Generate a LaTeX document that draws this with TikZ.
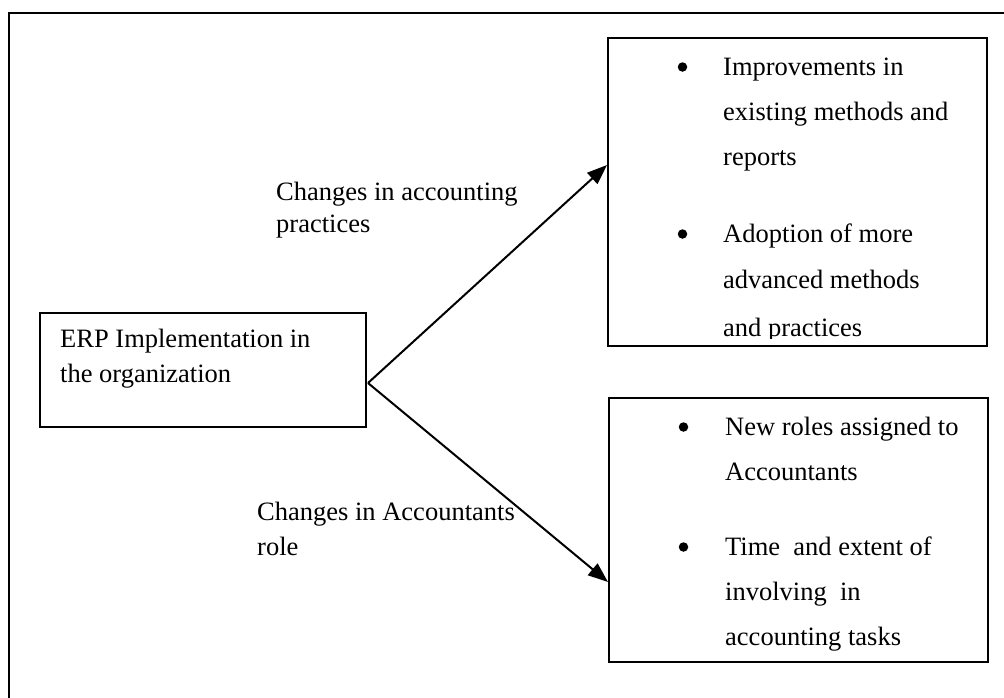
\documentclass[tikz,border=0pt]{standalone}
\usepackage{fontspec}
\setmainfont{Liberation Serif}
\usetikzlibrary{arrows.meta}
\begin{document}
\begin{tikzpicture}[x=1pt,y=-1pt,
  box/.style={draw=black,line width=1.7pt,anchor=north west,inner sep=0pt},
  txt/.style={anchor=base west,inner sep=0pt,font=\fontsize{26.5}{32}\selectfont},
  dot/.style={circle,fill=black,inner sep=0pt,minimum size=9.5pt},
  conn/.style={line width=2pt,-{Triangle[length=20pt,width=15pt]}}]
\useasboundingbox (0,0) rectangle (1004,697);
\fill[white] (0,0) rectangle (1004,697);
% outer frame
\coordinate (fb) at (9,700);
\coordinate (ftl) at (9,12.5);
\coordinate (fr) at (1010,12.5);
\draw[line width=2pt] (fb) -- (ftl) -- (fr);
% boxes
\node[box,minimum width=326pt,minimum height=114pt] (erp) at (39,312) {};
\node[box,minimum width=379pt,minimum height=308pt] (acc) at (607,37) {};
\node[box,minimum width=379pt,minimum height=264pt] (role) at (608,397) {};
% ERP text
\node[txt] (e1) at (60,347) {ERP Implementation in};
\node[txt] (e2) at (60,382) {the organization};
% top box text
\node[dot] (b1) at (682.5,67) {};
\node[dot] (b2) at (682.5,234) {};
\begin{scope}
\clip (607,37) rectangle (986,338);
\node[txt] (a1) at (723,75) {Improvements in};
\node[txt] (a2) at (723,120) {existing methods and};
\node[txt] (a3) at (723,165) {reports};
\node[txt] (a4) at (723,242) {Adoption of more};
\node[txt] (a5) at (723,288) {advanced methods};
\node[txt] (a6) at (723,336) {and practices};
\end{scope}
% bottom box text
\node[dot] (b3) at (683.5,427) {};
\node[dot] (b4) at (683.5,547) {};
\node[txt] (r1) at (725,435) {New roles assigned to};
\node[txt] (r2) at (725,480) {Accountants};
\node[txt] (r3) at (725,555) {Time\ \ and extent of};
\node[txt] (r4) at (725,600) {involving\ \ in};
\node[txt] (r5) at (725,645) {accounting tasks};
% labels
\node[txt] (l1) at (276,200) {Changes in accounting};
\node[txt] (l2) at (276,232) {practices};
\node[txt] (l3) at (257,520) {Changes in Accountants};
\node[txt] (l4) at (257,555) {role};
% connectors
\coordinate (src) at (368,383);
\coordinate (t1) at (607,165);
\coordinate (t2) at (608,582);
\draw[conn] (src) -- (t1);
\draw[conn] (src) -- (t2);
\end{tikzpicture}
\end{document}
